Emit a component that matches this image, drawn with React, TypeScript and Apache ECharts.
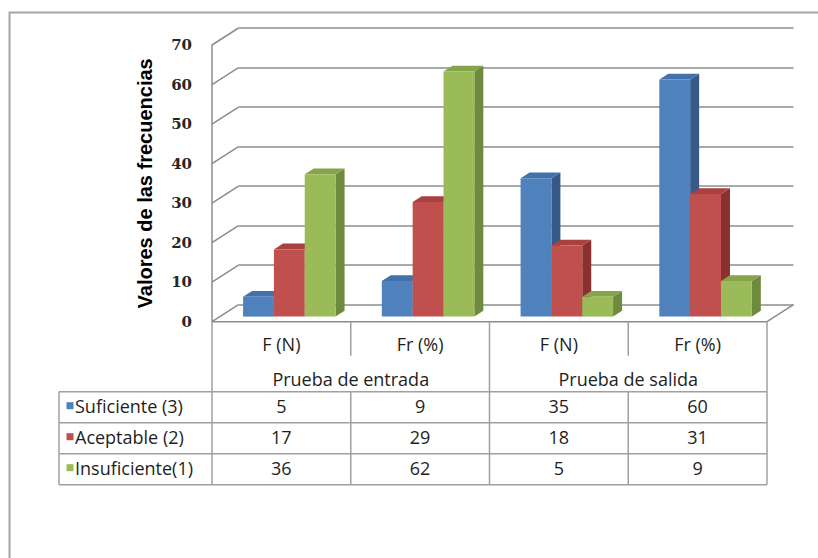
import React, { useEffect, useRef } from "react";
import * as echarts from "echarts";

// ---------- data ----------
const categories = ["F (N)", "Fr (%)", "F (N)", "Fr (%)"];
const groups = ["Prueba de entrada", "Prueba de salida"];
const seriesNames = ["Suficiente (3)", "Aceptable (2)", "Insuficiente(1)"];
const suficiente = [5, 9, 35, 60];
const aceptable = [17, 29, 18, 31];
const insuficiente = [36, 62, 5, 9];
const yTicks = [0, 10, 20, 30, 40, 50, 60, 70];
const yTitle = "Valores de las frecuencias";

// ---------- style ----------
const seriesValues = [suficiente, aceptable, insuficiente];
const FRONT_COLORS = ["#4F81BD", "#C0504D", "#9BBB59"];
const TOP_COLORS = ["#4272AC", "#A9423F", "#86A54A"];
const SIDE_COLORS = ["#37598A", "#8A302E", "#6E8A3C"];
const GRID_COLOR = "#8C8C8C";
const TABLE_COLOR = "#A0A0A0";
const TABLE_FONT = "'Open Sans', sans-serif";
const TABLE_SIZE = 18;
const TEXT_COLOR = "#1E1E1E";

const FRONT = { left: 212, top: 45, width: 555, height: 276.7 };
const DX = 26.5;
const DY = -17;
const FX = 0.3 * DX;
const FY = 0.3 * DY;
const BDX = 9;
const BDY = -5.8;
const HEADER_H = 70;
const ROW_H = 31;
const LEGEND_W = 153;

function buildOption() {
  const lineStyle = { stroke: GRID_COLOR, lineWidth: 1.5 };
  const tableLine = { stroke: TABLE_COLOR, lineWidth: 1.5 };

  const wallSeries: any = {
    type: "custom",
    name: "walls",
    xAxisIndex: 0,
    yAxisIndex: 0,
    silent: true,
    z: 1,
    data: yTicks.map((v) => [0, v]),
    encode: { x: 0, y: 1 },
    renderItem: (params: any, api: any) => {
      const v = api.value(1);
      const cs = params.coordSys;
      const y = api.coord([0, v])[1];
      const x0 = cs.x;
      const children: any[] = [
        { type: "line", shape: { x1: x0, y1: y, x2: x0 + DX, y2: y + DY }, style: lineStyle },
      ];
      if (v === 0) {
        const x1 = cs.x + cs.width;
        children.push(
          { type: "line", shape: { x1: x0, y1: y, x2: x1, y2: y }, style: lineStyle },
          { type: "line", shape: { x1: x1, y1: y, x2: x1 + DX, y2: y + DY }, style: lineStyle }
        );
      }
      return { type: "group", children };
    },
  };

  const barSeries = seriesValues.map((vals, i) => ({
    type: "custom",
    name: seriesNames[i],
    xAxisIndex: 0,
    yAxisIndex: 0,
    z: 3 + i,
    itemStyle: { color: FRONT_COLORS[i] },
    data: vals.map((v, j) => [j, v]),
    encode: { x: 0, y: 1 },
    renderItem: (params: any, api: any) => {
      const j = api.value(0);
      const v = api.value(1);
      const band = api.size([1, 0])[0];
      const bw = band / 4.5;
      const cx = api.coord([j, 0])[0];
      const x = cx - 1.5 * bw + i * bw + FX;
      const yb = api.coord([j, 0])[1] + FY;
      const yt = api.coord([j, v])[1] + FY;
      return {
        type: "group",
        children: [
          {
            type: "polygon",
            shape: { points: [[x + bw, yt], [x + bw + BDX, yt + BDY], [x + bw + BDX, yb + BDY], [x + bw, yb]] },
            style: { fill: SIDE_COLORS[i] },
          },
          {
            type: "polygon",
            shape: { points: [[x, yt], [x + bw, yt], [x + bw + BDX, yt + BDY], [x + BDX, yt + BDY]] },
            style: { fill: TOP_COLORS[i] },
          },
          { type: "rect", shape: { x, y: yt, width: bw, height: yb - yt }, style: { fill: FRONT_COLORS[i] } },
        ],
      };
    },
  }));

  const tableLines: any = {
    type: "custom",
    name: "tableLines",
    xAxisIndex: 0,
    yAxisIndex: 0,
    silent: true,
    z: 2,
    data: [[0, 0]],
    encode: { x: 0, y: 1 },
    renderItem: (params: any) => {
      const cs = params.coordSys;
      const band = cs.width / categories.length;
      const y0 = cs.y + cs.height;
      const yH = y0 + HEADER_H;
      const yB = yH + seriesNames.length * ROW_H;
      const L = cs.x - LEGEND_W;
      const R = cs.x + cs.width;
      const ch: any[] = [];
      for (let r = 0; r <= seriesNames.length; r++) {
        const y = yH + r * ROW_H;
        ch.push({ type: "line", shape: { x1: L, y1: y, x2: R, y2: y }, style: tableLine });
      }
      ch.push({ type: "line", shape: { x1: L, y1: yH, x2: L, y2: yB }, style: tableLine });
      ch.push({ type: "line", shape: { x1: cs.x, y1: y0, x2: cs.x, y2: yB }, style: tableLine });
      for (let k = 1; k <= categories.length; k++) {
        const x = cs.x + k * band;
        if (k % 2 === 0) {
          ch.push({ type: "line", shape: { x1: x, y1: y0, x2: x, y2: yB }, style: tableLine });
        } else {
          ch.push({ type: "line", shape: { x1: x, y1: y0, x2: x, y2: y0 + 34 }, style: tableLine });
          ch.push({ type: "line", shape: { x1: x, y1: yH, x2: x, y2: yB }, style: tableLine });
        }
      }
      return { type: "group", children: ch };
    },
  };

  const cellData: any[] = [];
  seriesValues.forEach((vals, r) => vals.forEach((v, j) => cellData.push([j, v, r])));

  const tableCells: any = {
    type: "custom",
    name: "tableCells",
    xAxisIndex: 0,
    yAxisIndex: 0,
    silent: true,
    z: 2,
    data: cellData,
    encode: { x: 0, y: 1 },
    renderItem: (params: any, api: any) => {
      const cs = params.coordSys;
      const j = api.value(0);
      const v = api.value(1);
      const r = api.value(2);
      const x = api.coord([j, 0])[0];
      const y = cs.y + cs.height + HEADER_H + r * ROW_H + ROW_H / 2 - 1.5;
      return {
        type: "text",
        x,
        y,
        style: {
          text: String(v),
          align: "center",
          verticalAlign: "middle",
          fontFamily: TABLE_FONT,
          fontSize: TABLE_SIZE,
          fill: TEXT_COLOR,
        },
      };
    },
  };

  const legendCells: any = {
    type: "custom",
    name: "legendCells",
    xAxisIndex: 0,
    yAxisIndex: 0,
    silent: true,
    z: 2,
    data: seriesNames.map((_, r) => [0, 0, r]),
    encode: { x: 0, y: 1 },
    renderItem: (params: any, api: any) => {
      const cs = params.coordSys;
      const r = api.value(2);
      const L = cs.x - LEGEND_W;
      const yc = cs.y + cs.height + HEADER_H + r * ROW_H + ROW_H / 2 - 1.5;
      return {
        type: "group",
        children: [
          { type: "rect", shape: { x: L + 7.5, y: yc - 3.5, width: 7, height: 7 }, style: { fill: FRONT_COLORS[r] } },
          {
            type: "text",
            x: L + 16,
            y: yc,
            style: {
              text: seriesNames[r],
              align: "left",
              verticalAlign: "middle",
              fontFamily: TABLE_FONT,
              fontSize: TABLE_SIZE,
              fill: TEXT_COLOR,
            },
          },
        ],
      };
    },
  };

  return {
    animation: false,
    backgroundColor: "#ffffff",
    graphic: [
      {
        type: "rect",
        shape: { x: 9.5, y: 12.5, width: 900, height: 700 },
        style: { fill: "none", stroke: "#A6A6A6", lineWidth: 2 },
        silent: true,
        z: 0,
      },
    ],
    grid: [
      { ...FRONT },
      { left: FRONT.left + DX, top: FRONT.top + DY, width: FRONT.width, height: FRONT.height },
    ],
    xAxis: [
      {
        gridIndex: 0,
        type: "category",
        data: categories,
        position: "bottom",
        axisLine: { show: false },
        axisTick: { show: false },
        axisLabel: { margin: 13, fontFamily: TABLE_FONT, fontSize: TABLE_SIZE, color: TEXT_COLOR },
      },
      {
        gridIndex: 0,
        type: "category",
        data: groups,
        position: "bottom",
        axisLine: { show: false },
        axisTick: { show: false },
        axisLabel: { margin: 48, fontFamily: TABLE_FONT, fontSize: TABLE_SIZE, color: TEXT_COLOR },
      },
      { gridIndex: 1, type: "category", data: categories, show: false },
    ],
    yAxis: [
      {
        gridIndex: 0,
        type: "value",
        min: 0,
        max: 70,
        interval: 10,
        axisLine: { show: true, lineStyle: { color: GRID_COLOR, width: 1.5 } },
        axisTick: { show: false },
        splitLine: { show: false },
        axisLabel: {
          margin: 20,
          fontFamily: "'DejaVu Serif', serif",
          fontWeight: "bold",
          fontSize: 15,
          color: "#262626",
        },
        name: yTitle,
        nameLocation: "middle",
        nameGap: 57,
        nameTextStyle: {
          fontFamily: "'Liberation Sans', Arial, sans-serif",
          fontWeight: "bold",
          fontSize: 20,
          color: "#000000",
        },
      },
      {
        gridIndex: 1,
        type: "value",
        min: 0,
        max: 70,
        interval: 10,
        axisLine: { show: false },
        axisTick: { show: false },
        axisLabel: { show: false },
        splitLine: { show: true, lineStyle: { color: GRID_COLOR, width: 1.5 } },
      },
    ],
    series: [wallSeries, ...barSeries, tableLines, tableCells, legendCells],
  };
}

export default function App() {
  const ref = useRef<HTMLDivElement>(null);
  useEffect(() => {
    if (!ref.current) return;
    const chart = echarts.init(ref.current, null, { renderer: "svg" });
    chart.setOption(buildOption() as any);
    return () => chart.dispose();
  }, []);
  return (
    <div
      ref={ref}
      style={{ position: "fixed", left: 0, top: 0, width: 818, height: 558, background: "#ffffff" }}
    />
  );
}
